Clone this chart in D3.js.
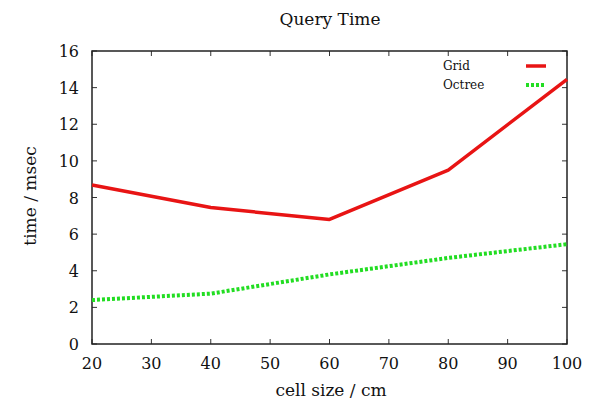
<!DOCTYPE html>
<html><head><meta charset="utf-8">
<script src="https://cdn.jsdelivr.net/npm/d3@7"></script>
<style>
body{margin:0;background:#fff;}
text{font-family:"DejaVu Serif",serif;fill:#111;}
</style></head>
<body><svg id="c" width="589" height="406"></svg>
<script>
const cellSizes = [20, 40, 60, 80, 100];
const gridTimes = [8.68, 7.45, 6.8, 9.5, 14.45];
const octreeTimes = [2.4, 2.75, 3.8, 4.7, 5.45];
const xTicks = [20, 30, 40, 50, 60, 70, 80, 90, 100];
const yTicks = [0, 2, 4, 6, 8, 10, 12, 14, 16];
const seriesNames = ["Grid", "Octree"];

const L = 92, R = 567, T = 51, B = 344;
const svg = d3.select("#c");
const x = d3.scaleLinear().domain([20, 100]).range([L, R]);
const y = d3.scaleLinear().domain([0, 16]).range([B, T]);

const tl = 5;
const g = svg.append("g").attr("stroke", "#333").attr("stroke-width", 1);
xTicks.forEach(v => {
  g.append("line").attr("x1", x(v)).attr("x2", x(v)).attr("y1", B).attr("y2", B - tl);
  g.append("line").attr("x1", x(v)).attr("x2", x(v)).attr("y1", T).attr("y2", T + tl);
});
yTicks.forEach(v => {
  g.append("line").attr("x1", L).attr("x2", L + tl).attr("y1", y(v)).attr("y2", y(v));
  g.append("line").attr("x1", R).attr("x2", R - tl).attr("y1", y(v)).attr("y2", y(v));
});
svg.append("rect").attr("x", L).attr("y", T).attr("width", R - L).attr("height", B - T)
  .attr("fill", "none").attr("stroke", "#222").attr("stroke-width", 1.5);

svg.append("g").selectAll("text").data(xTicks).join("text")
  .attr("x", d => x(d)).attr("y", 369).attr("text-anchor", "middle")
  .attr("font-size", 16).text(d => d);
svg.append("g").selectAll("text").data(yTicks).join("text")
  .attr("x", 79).attr("y", d => y(d) + 6).attr("text-anchor", "end")
  .attr("font-size", 16).text(d => d);

svg.append("text").attr("x", 330).attr("y", 25).attr("text-anchor", "middle")
  .attr("font-size", 17).text("Query Time");
svg.append("text").attr("x", 331).attr("y", 396).attr("text-anchor", "middle")
  .attr("font-size", 17).text("cell size / cm");
svg.append("text").attr("transform", "translate(36,196) rotate(-90)").attr("text-anchor", "middle")
  .attr("font-size", 17).text("time / msec");

const line = d3.line().x((d, i) => x(cellSizes[i])).y(d => y(d));
svg.append("path").datum(gridTimes).attr("d", line).attr("fill", "none")
  .attr("stroke", "#e81414").attr("stroke-width", 3.5).attr("stroke-linejoin", "round");
svg.append("path").datum(octreeTimes).attr("d", line).attr("fill", "none")
  .attr("stroke", "#22dd22").attr("stroke-width", 4).attr("stroke-dasharray", "3,2");

const colors = ["#e81414", "#22dd22"];
const dashes = [null, "3,2"];
seriesNames.forEach((n, i) => {
  const yy = 66 + i * 19;
  svg.append("text").attr("x", 443).attr("y", yy + 4).attr("font-size", 12).text(n);
  svg.append("line").attr("x1", 526).attr("x2", 546).attr("y1", yy).attr("y2", yy)
    .attr("stroke", colors[i]).attr("stroke-width", i ? 4 : 3.5).attr("stroke-dasharray", dashes[i]);
});
</script></body></html>
